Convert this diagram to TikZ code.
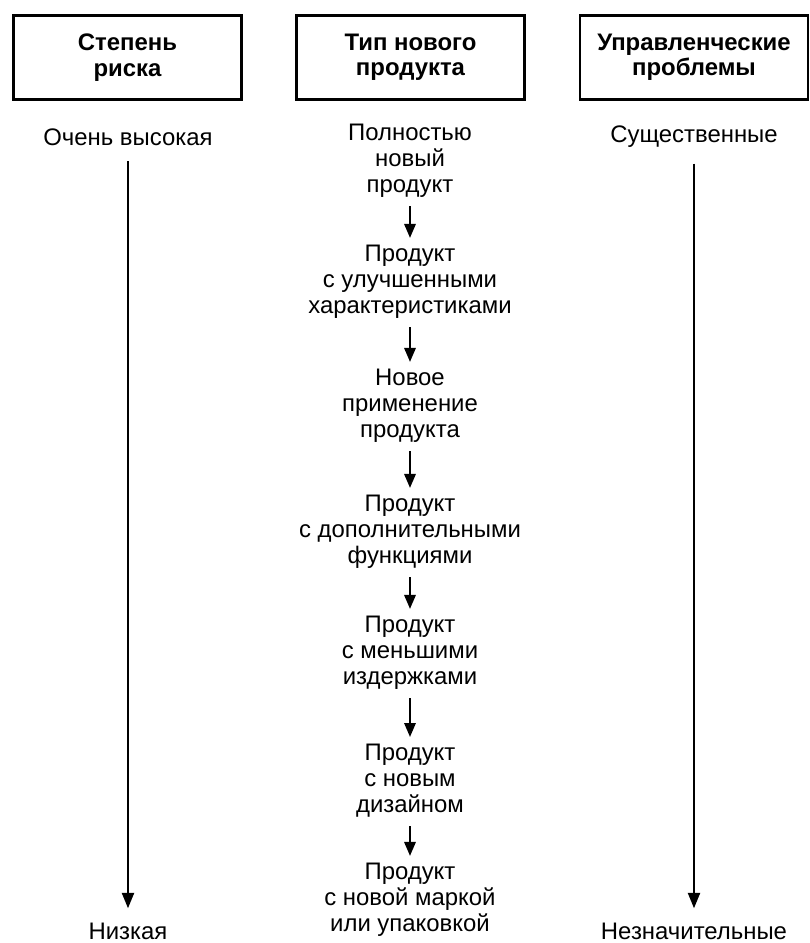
\documentclass[tikz,border=0pt]{standalone}
\usepackage{fontspec}
\setmainfont{Liberation Sans}
\usetikzlibrary{arrows.meta,positioning}

\begin{document}
\begin{tikzpicture}[x=0.025cm,y=-0.025cm,
    headbox/.style={draw,line width=2pt,minimum width=5.7cm,minimum height=2.1cm,
      align=center,inner sep=0pt,font=\fontsize{17}{18}\selectfont\bfseries},
    leveltext/.style={align=center,inner sep=0pt,font=\fontsize{17}{18.5}\selectfont},
    longarrow/.style={-{Triangle[length=11pt,width=8.5pt]},line width=1.7pt,
      shorten <=11pt,shorten >=10pt},
    shortarrow/.style={-{Triangle[length=10pt,width=8pt]},line width=1.7pt,
      shorten <=6pt,shorten >=5pt}]
  \useasboundingbox (0,0) rectangle (810,943);
  % Draw the three heads
  \node[headbox] (riskhead) at (127.5,57.5) {Степень\\риска};
  \node[headbox] (typehead) at (410.5,57.5) {Тип нового\\продукта};
  \node[headbox] (probhead) at (694,57.5) {Управленческие\\проблемы};
  % Risk scale
  \node[leveltext] (riskhi) at (128,137) {Очень высокая};
  \node[leveltext] (risklo) at (128,931) {Низкая};
  \draw[longarrow] (riskhi) -- (risklo);
  % Problems scale
  \node[leveltext] (probhi) at (694,137) {Существенные};
  \node[leveltext] (problo) at (694,931) {Незначительные};
  \draw[longarrow] (probhi) -- (problo);
  % Product types, top to bottom
  \node[leveltext] (prod1) at (410,161) {Полностью\\новый\\продукт};
  \node[leveltext] (prod2) at (410,282) {Продукт\\с улучшенными\\характеристиками};
  \node[leveltext] (prod3) at (410,406) {Новое\\применение\\продукта};
  \node[leveltext] (prod4) at (410,532) {Продукт\\с дополнительными\\функциями};
  \node[leveltext] (prod5) at (410,653) {Продукт\\с меньшими\\издержками};
  \node[leveltext] (prod6) at (410,781) {Продукт\\с новым\\дизайном};
  \node[leveltext] (prod7) at (410,900) {Продукт\\с новой маркой\\или упаковкой};
  \draw[shortarrow] (prod1) -- (prod2);
  \draw[shortarrow] (prod2) -- (prod3);
  \draw[shortarrow] (prod3) -- (prod4);
  \draw[shortarrow] (prod4) -- (prod5);
  \draw[shortarrow] (prod5) -- (prod6);
  \draw[shortarrow] (prod6) -- (prod7);
\end{tikzpicture}
\end{document}
